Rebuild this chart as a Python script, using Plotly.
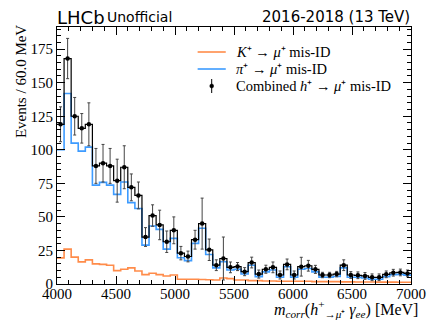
import numpy as np
import plotly.graph_objects as go

# Bin edges: 4000-7000 MeV in 60 MeV bins
bin_lo = 4000
bin_hi = 7000
bin_width = 60

k_misid = [19.5, 26, 20, 16.5, 18, 15, 14.6, 14, 10, 11, 12, 9.7, 7, 8, 7, 6, 6.7, 3.5, 3.5, 3.5,
           3.3, 3.2, 3, 4.5, 4, 3, 3, 2.5, 2.5, 2.2, 2.2, 2, 2, 2, 2, 2, 1.8, 1.8, 1.8, 1.8,
           1.6, 1.6, 1.5, 1.5, 1.5, 1.4, 1.4, 1.4, 1.3, 1.3]
pi_misid = [100, 142, 105, 99, 102, 73.7, 75.7, 73.7, 66.8, 76, 60.6, 56.3, 29, 43.2, 40.7, 26, 34, 19.6, 17.4, 30.3,
            41.5, 22, 12, 16.6, 10.4, 11, 7.4, 14, 5.5, 9, 10.4, 5, 12.9, 5, 11, 11.6, 9, 5, 5, 5.6,
            12, 5, 5, 4.5, 3.5, 3.5, 5.5, 7, 7.2, 6.6]
combined = [119, 168, 125, 116, 119, 88, 90, 88, 77, 87, 72, 66, 35, 51, 44, 31.5, 40, 23, 20.5, 33,
            45, 25.5, 14, 19, 12.4, 13, 9.2, 16, 7.4, 11, 12.4, 6.7, 14.6, 6.7, 12.9, 13.6, 10.9, 6.7, 6.7, 7.4,
            14, 6.7, 6.5, 6, 5, 5, 7.2, 8.4, 8.6, 7.9]
combined_err = [13, 15, 14, 11, 16, 13, 14, 13, 16, 16, 10, 10, 7, 8, 11, 8, 10, 5, 4, 7,
                19, 8, 4, 16, 4, 3, 3, 4, 3, 3, 4, 3, 4, 3, 7, 4, 3, 2, 2, 2,
                4, 2.5, 2.5, 2.5, 2.5, 2.5, 2.5, 2.5, 2.5, 2.5]

legend_labels = ["<i>K</i>⁺ → <i>μ</i>⁺ mis-ID",
                 "<i>π</i>⁺ → <i>μ</i>⁺ mis-ID",
                 "Combined <i>h</i>⁺ → <i>μ</i>⁺ mis-ID"]
colors = ["#ff8c4a", "#3d9bff", "black"]

edges = np.arange(bin_lo, bin_hi + bin_width, bin_width)
centers = edges[:-1] + bin_width / 2


def step(vals):
    return list(edges), list(vals) + [vals[-1]]


serif = "Liberation Serif"
sans = "DejaVu Sans"

W, H = 438, 321
ML, MR, MT, MB = 57, 16, 27, 37
PW, PH = W - ML - MR, H - MT - MB


def px(xp):  # page pixel -> paper x
    return (xp - ML) / PW


def py(yp):  # page pixel -> paper y
    return (H - MB - yp) / PH


fig = go.Figure()

x, y = step(k_misid)
fig.add_trace(go.Scatter(x=x, y=y, mode="lines", line=dict(shape="hv", color=colors[0], width=1.6),
                         name=legend_labels[0], showlegend=False))
x, y = step(pi_misid)
fig.add_trace(go.Scatter(x=x, y=y, mode="lines", line=dict(shape="hv", color=colors[1], width=1.6),
                         name=legend_labels[1], showlegend=False))
x, y = step(combined)
fig.add_trace(go.Scatter(x=x, y=y, mode="lines", line=dict(shape="hv", color="black", width=1.2),
                         showlegend=False, hoverinfo="skip"))
fig.add_trace(go.Scatter(x=centers, y=combined, mode="markers",
                         marker=dict(color="black", size=4.5),
                         error_y=dict(type="data", array=combined_err, color="#444444", thickness=1, width=1.5),
                         name=legend_labels[2], showlegend=False))

axis_common = dict(
    showline=True, linecolor="black", linewidth=1, mirror="ticks",
    ticks="inside", ticklen=8, tickwidth=1, tickcolor="black",
    showgrid=False, zeroline=False,
    tickfont=dict(family=serif, size=15, color="black"),
)

fig.update_xaxes(range=[4000, 7000], dtick=500, tick0=4000, ticklabelstandoff=-4,
                 minor=dict(ticks="inside", ticklen=4, dtick=100, tickcolor="black", showgrid=False),
                 **axis_common)
fig.update_yaxes(range=[0, 191.5], dtick=25, tick0=0,
                 minor=dict(ticks="inside", ticklen=4, dtick=5, tickcolor="black", showgrid=False),
                 **axis_common)

# legend (drawn in paper space)
rows = [52, 69, 86]
for i, (lab, col) in enumerate(zip(legend_labels, colors)):
    yy = py(rows[i])
    if i < 2:
        fig.add_shape(type="line", xref="paper", yref="paper", x0=px(202), x1=px(231), y0=yy, y1=yy,
                      line=dict(color=col, width=1.6))
    else:
        fig.add_shape(type="line", xref="paper", yref="paper", x0=px(216.5), x1=px(216.5),
                      y0=py(79), y1=py(93), line=dict(color="black", width=1))
        fig.add_shape(type="circle", xref="paper", yref="paper", x0=px(214.5), x1=px(218.5),
                      y0=py(84), y1=py(88), fillcolor="black", line=dict(color="black", width=0.5))
    fig.add_annotation(xref="paper", yref="paper", x=px(240), y=yy, xanchor="left", yanchor="middle",
                       text=lab, showarrow=False, font=dict(family=serif, size=14.5, color="black"))

# axis titles (ROOT style: aligned to the axis ends)
fig.add_annotation(xref="paper", yref="paper", x=px(431), y=py(309), xanchor="right", yanchor="middle",
                   text="<i>m<sub>corr</sub></i>(<i>h</i><sup>+</sup><sub>→<i>μ</i>⁺</sub> <i>γ<sub>ee</sub></i>) [MeV]",
                   showarrow=False, font=dict(family=serif, size=16, color="black"))
fig.add_annotation(xref="paper", yref="paper", x=px(20), y=py(82), xanchor="center", yanchor="middle",
                   textangle=-90, text="Events / 60.0 MeV",
                   showarrow=False, font=dict(family=serif, size=15, color="black"))

fig.add_annotation(xref="paper", yref="paper", x=px(55), y=py(17.5), xanchor="left", yanchor="middle",
                   text="LHCb", showarrow=False, font=dict(family=sans, size=18, color="black"))
fig.add_annotation(xref="paper", yref="paper", x=px(106), y=py(17), xanchor="left", yanchor="middle",
                   text="Unofficial", showarrow=False, font=dict(family=sans, size=14, color="black"))
fig.add_annotation(xref="paper", yref="paper", x=px(423), y=py(17), xanchor="right", yanchor="middle",
                   text="2016-2018 (13 TeV)", showarrow=False, font=dict(family=sans, size=15, color="black"))

fig.update_layout(
    width=W, height=H,
    margin=dict(l=ML, r=MR, t=MT, b=MB),
    plot_bgcolor="white", paper_bgcolor="white",
    showlegend=False,
)

fig.write_html("out.html", config={"displayModeBar": False},
               post_script="document.body.style.margin='0px';")
